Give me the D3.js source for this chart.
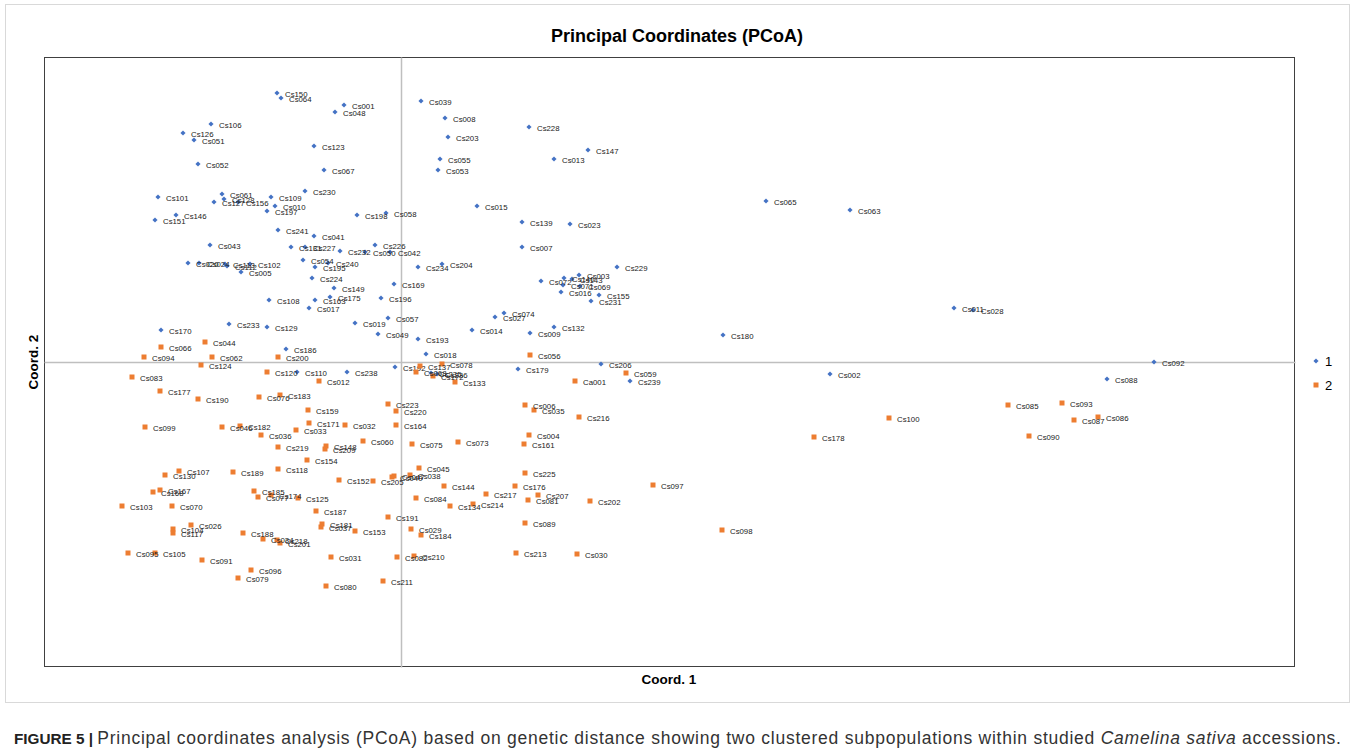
<!DOCTYPE html>
<html><head><meta charset="utf-8">
<script src="https://cdn.jsdelivr.net/npm/d3@7/dist/d3.min.js"></script>
<style>
body{margin:0;background:#fff;}
svg{display:block;font-family:"Liberation Sans",Arial,sans-serif;}
</style></head>
<body>
<svg id="chart" width="1355" height="752"></svg>
<script>
// ---- Data (Coord. 1 / Coord. 2) ----
const group1Names = ["Cs150","Cs064","Cs106","Cs126","Cs051","Cs052","Cs101","Cs061","Cs128","Cs127","Cs156","Cs109","Cs010","Cs197","Cs146","Cs151","Cs241","Cs043","Cs001","Cs048","Cs123","Cs067","Cs230","Cs198","Cs058","Cs041","Cs226","Cs039","Cs008","Cs203","Cs055","Cs053","Cs015","Cs139","Cs228","Cs147","Cs013","Cs023","Cs007","Cs020","Cs024","Cs113","Cs112","Cs102","Cs005","Cs108","Cs233","Cs129","Cs170","Cs186","Cs131","Cs227","Cs232","Cs050","Cs042","Cs054","Cs195","Cs240","Cs224","Cs149","Cs169","Cs175","Cs163","Cs196","Cs017","Cs234","Cs204","Cs019","Cs057","Cs049","Cs193","Cs018","Cs014","Cs027","Cs074","Cs192","Cs110","Cs238","Cs235","Cs236","Cs229","Cs072","Cs140","Cs003","Cs143","Cs071","Cs069","Cs016","Cs155","Cs231","Cs132","Cs009","Cs179","Cs206","Cs239","Cs065","Cs063","Cs011","Cs028","Cs180","Cs002","Cs092","Cs088"];
const group1X = [-0.124,-0.120,-0.190,-0.218,-0.207,-0.203,-0.243,-0.179,-0.177,-0.187,-0.163,-0.130,-0.126,-0.134,-0.225,-0.246,-0.123,-0.191,-0.057,-0.066,-0.087,-0.077,-0.096,-0.044,-0.015,-0.087,-0.026,0.020,0.044,0.047,0.039,0.037,0.076,0.121,0.128,0.187,0.153,0.169,0.121,-0.213,-0.202,-0.176,-0.174,-0.151,-0.160,-0.132,-0.172,-0.134,-0.240,-0.115,-0.110,-0.096,-0.061,-0.036,-0.011,-0.098,-0.086,-0.073,-0.089,-0.067,-0.007,-0.071,-0.086,-0.020,-0.092,0.017,0.041,-0.046,-0.013,-0.023,0.017,0.025,0.071,0.094,0.103,-0.006,-0.104,-0.054,0.030,0.036,0.216,0.140,0.163,0.178,0.171,0.162,0.179,0.160,0.198,0.190,0.153,0.129,0.117,0.200,0.229,0.365,0.449,0.553,0.572,0.322,0.429,0.753,0.706];
const group1Y = [0.269,0.264,0.238,0.229,0.222,0.198,0.165,0.168,0.163,0.160,0.160,0.165,0.156,0.151,0.147,0.142,0.132,0.117,0.257,0.250,0.216,0.192,0.171,0.147,0.149,0.126,0.117,0.261,0.244,0.225,0.203,0.192,0.156,0.140,0.235,0.212,0.203,0.138,0.115,0.099,0.099,0.098,0.096,0.098,0.090,0.062,0.038,0.035,0.032,0.013,0.115,0.115,0.111,0.110,0.110,0.102,0.095,0.099,0.084,0.074,0.078,0.065,0.062,0.064,0.054,0.095,0.098,0.039,0.044,0.028,0.023,0.008,0.032,0.045,0.049,-0.005,-0.010,-0.010,-0.011,-0.012,0.095,0.081,0.084,0.087,0.083,0.077,0.076,0.070,0.067,0.061,0.035,0.029,-0.007,-0.002,-0.019,0.161,0.152,0.054,0.052,0.027,-0.012,0.000,-0.017];

const group2Names = ["Cs044","Cs066","Cs094","Cs062","Cs200","Cs124","Cs083","Cs120","Cs177","Cs190","Cs076","Cs183","Cs012","Cs056","Cs137","Cs078","Cs068","Cs172","Cs133","Ca001","Cs059","Cs006","Cs035","Cs216","Cs004","Cs161","Cs225","Cs097","Cs176","Cs207","Cs081","Cs202","Cs089","Cs213","Cs030","Cs099","Cs046","Cs182","Cs036","Cs219","Cs107","Cs130","Cs189","Cs118","Cs167","Cs168","Cs185","Cs077","Cs174","Cs125","Cs103","Cs070","Cs026","Cs104","Cs117","Cs188","Cs034","Cs218","Cs201","Cs095","Cs105","Cs091","Cs096","Cs079","Cs223","Cs220","Cs159","Cs171","Cs033","Cs032","Cs164","Cs060","Cs075","Cs073","Cs148","Cs209","Cs154","Cs045","Cs152","Cs205","Cs040","Cs047","Cs038","Cs144","Cs084","Cs134","Cs217","Cs214","Cs187","Cs191","Cs181","Cs037","Cs153","Cs029","Cs184","Cs031","Cs082","Cs210","Cs211","Cs080","Cs100","Cs178","Cs098","Cs085","Cs093","Cs087","Cs086","Cs090"];
const group2X = [-0.196,-0.240,-0.257,-0.189,-0.123,-0.200,-0.269,-0.134,-0.241,-0.203,-0.142,-0.121,-0.082,0.129,0.019,0.041,0.015,0.032,0.054,0.174,0.225,0.124,0.133,0.178,0.128,0.123,0.124,0.252,0.114,0.137,0.127,0.189,0.124,0.115,0.176,-0.256,-0.179,-0.161,-0.140,-0.123,-0.222,-0.236,-0.168,-0.123,-0.241,-0.248,-0.147,-0.143,-0.130,-0.103,-0.279,-0.229,-0.210,-0.228,-0.228,-0.158,-0.138,-0.124,-0.121,-0.273,-0.246,-0.199,-0.150,-0.163,-0.013,-0.005,-0.093,-0.092,-0.105,-0.056,-0.005,-0.038,0.011,0.057,-0.075,-0.076,-0.094,0.018,-0.062,-0.028,-0.009,-0.007,0.009,0.043,0.015,0.049,0.085,0.072,-0.085,-0.013,-0.079,-0.080,-0.046,0.010,0.020,-0.070,-0.004,0.013,-0.018,-0.075,0.488,0.413,0.321,0.607,0.661,0.673,0.697,0.628];
const group2Y = [0.020,0.015,0.005,0.005,0.005,-0.003,-0.015,-0.010,-0.029,-0.037,-0.035,-0.033,-0.019,0.007,-0.004,-0.002,-0.010,-0.014,-0.020,-0.019,-0.011,-0.043,-0.048,-0.055,-0.073,-0.082,-0.111,-0.123,-0.124,-0.133,-0.138,-0.139,-0.161,-0.191,-0.192,-0.065,-0.065,-0.064,-0.073,-0.085,-0.109,-0.113,-0.110,-0.107,-0.128,-0.130,-0.129,-0.135,-0.133,-0.136,-0.144,-0.144,-0.163,-0.167,-0.171,-0.171,-0.177,-0.178,-0.181,-0.191,-0.191,-0.198,-0.208,-0.216,-0.042,-0.049,-0.048,-0.061,-0.068,-0.063,-0.063,-0.079,-0.082,-0.080,-0.084,-0.087,-0.098,-0.106,-0.118,-0.119,-0.115,-0.114,-0.113,-0.124,-0.136,-0.144,-0.132,-0.142,-0.149,-0.155,-0.162,-0.165,-0.169,-0.167,-0.173,-0.195,-0.195,-0.194,-0.219,-0.224,-0.056,-0.075,-0.168,-0.043,-0.041,-0.058,-0.055,-0.074];

const seriesNames = ["1","2"];
const title = "Principal Coordinates (PCoA)";
const xTitle = "Coord. 1";
const yTitle = "Coord. 2";

// ---- Layout ----
const svg = d3.select("#chart");
const plot = {left:44, right:1295, top:57, bottom:667};
const x = d3.scaleLinear().domain([-0.357, 0.894]).range([plot.left, plot.right]);
const y = d3.scaleLinear().domain([-0.305, 0.305]).range([plot.bottom, plot.top]);
const colors = ["#4472C4", "#ED7D31"];

// outer frame
svg.append("rect").attr("x",5.5).attr("y",4.5).attr("width",1344).attr("height",698)
  .attr("fill","none").attr("stroke","#d9d9d9");

// plot border
svg.append("rect").attr("x",plot.left+0.5).attr("y",plot.top+0.5)
  .attr("width",plot.right-plot.left-1).attr("height",plot.bottom-plot.top-1)
  .attr("fill","none").attr("stroke","#404040").attr("stroke-width",1);

// zero axes (no ticks)
svg.append("g").attr("transform",`translate(0,${y(0)})`)
  .call(d3.axisBottom(x).tickValues([]).tickSizeOuter(0));
svg.append("g").attr("transform",`translate(${x(0)},0)`)
  .call(d3.axisLeft(y).tickValues([]).tickSizeOuter(0));
svg.selectAll(".domain").attr("stroke","#bfbfbf").attr("stroke-width",1.5);

// titles
svg.append("text").attr("x",677).attr("y",42).attr("text-anchor","middle")
  .attr("font-size","18px").attr("font-weight","bold").attr("fill","#000").text(title);
svg.append("text").attr("x",669).attr("y",684).attr("text-anchor","middle")
  .attr("font-size","13.5px").attr("font-weight","bold").text(xTitle);
svg.append("text").attr("transform","translate(38,362) rotate(-90)").attr("text-anchor","middle")
  .attr("font-size","13.5px").attr("font-weight","bold").text(yTitle);

// points
const diamond = {draw(ctx, size){ const r = Math.sqrt(size/2); ctx.moveTo(0,-r); ctx.lineTo(r,0); ctx.lineTo(0,r); ctx.lineTo(-r,0); ctx.closePath(); }};
const groups = [
  {names:group1Names, xs:group1X, ys:group1Y, sym:diamond, size:13},
  {names:group2Names, xs:group2X, ys:group2Y, sym:d3.symbolSquare, size:25}
];
groups.forEach((g,gi)=>{
  const data = g.names.map((n,i)=>({n, x:g.xs[i], y:g.ys[i]}));
  const layer = svg.append("g");
  layer.selectAll("path").data(data).join("path")
    .attr("d", d3.symbol(g.sym, g.size))
    .attr("transform", d=>`translate(${x(d.x)},${y(d.y)})`)
    .attr("fill", colors[gi]);
  layer.selectAll("text").data(data).join("text")
    .attr("x", d=>x(d.x)+8).attr("y", d=>y(d.y)+1)
    .attr("dy","0.35em").attr("font-size","7.8px").attr("fill","#222")
    .text(d=>d.n);
});

// legend
const leg = svg.append("g");
seriesNames.forEach((s,i)=>{
  const ly = 361 + i*24;
  leg.append("path").attr("d", d3.symbol(groups[i].sym, groups[i].size)())
    .attr("transform",`translate(1316,${ly})`).attr("fill",colors[i]);
  leg.append("text").attr("x",1325).attr("y",ly).attr("dy","0.35em")
    .attr("font-size","13px").attr("fill","#000").text(s);
});

// caption
const cap = svg.append("text").attr("x",14).attr("y",744).attr("fill","#333");
cap.append("tspan").attr("font-weight","bold").attr("font-size","15.3px").attr("fill","#222").text("FIGURE 5 | ");
const body = cap.append("tspan").attr("font-size","17.5px").attr("letter-spacing","0.75px");
body.append("tspan").text("Principal coordinates analysis (PCoA) based on genetic distance showing two clustered subpopulations within studied ");
body.append("tspan").attr("font-style","italic").text("Camelina sativa");
body.append("tspan").text(" accessions.");
</script>
</body></html>
